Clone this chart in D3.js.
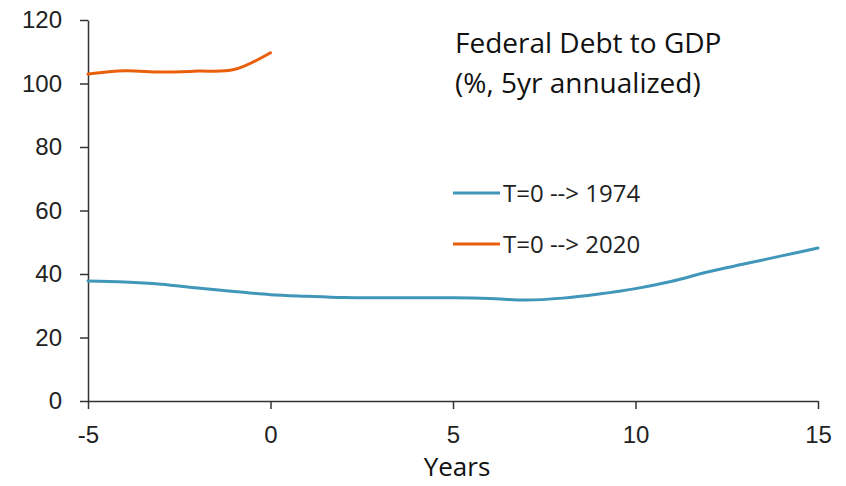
<!DOCTYPE html>
<html>
<head>
<meta charset="utf-8">
<script src="https://cdn.jsdelivr.net/npm/d3@7.9.0/dist/d3.min.js"></script>
<style>
  body { margin: 0; background: #fff; }
  svg { display: block; font-family: "Open Sans", sans-serif; }
  .axis text { font-size: 24px; fill: #222; }
  .axis path, .axis line { stroke: #333; stroke-width: 1.5; }
</style>
</head>
<body>
<div id="chart"></div>
<script>
// data
const years = [-5, -4, -3, -2, -1, 0, 1, 2, 3, 4, 5, 6, 7, 8, 9, 10, 11, 12, 13, 14, 15];
const debt1974 = [37.8, 37.5, 36.8, 35.6, 34.5, 33.5, 33.0, 32.6, 32.5, 32.5, 32.5, 32.3, 31.8, 32.4, 33.7, 35.4, 37.7, 40.7, 43.2, 45.7, 48.2];
const years2020 = [-5, -4, -3, -2, -1, 0];
const debt2020 = [103.0, 104.0, 103.6, 103.9, 104.4, 109.7];
const xTicks = [-5, 0, 5, 10, 15];
const yTicks = [0, 20, 40, 60, 80, 100, 120];
const seriesNames = ["T=0 --> 1974", "T=0 --> 2020"];
const colors = ["#4197ba", "#ea5f0c"];

const width = 846;
const height = 486;
const margin = { top: 20, right: 28, bottom: 85, left: 88 };

const svg = d3.select("#chart")
  .append("svg")
  .attr("width", width)
  .attr("height", height);

const x = d3.scaleLinear()
  .domain([-5, 15])
  .range([margin.left, width - margin.right]);

const y = d3.scaleLinear()
  .domain([0, 120])
  .range([height - margin.bottom, margin.top]);

// axes (plain hyphen for negatives, like the original)
svg.append("g")
  .attr("class", "axis")
  .attr("transform", `translate(0, ${y(0)})`)
  .call(d3.axisBottom(x).tickValues(xTicks).tickFormat(d => String(d))
    .tickSize(8).tickPadding(17).tickSizeOuter(0))
  .call(g => g.selectAll("text").attr("dy", "0.71em"));

svg.append("g")
  .attr("class", "axis")
  .attr("transform", `translate(${x(-5)}, 0)`)
  .call(d3.axisLeft(y).tickValues(yTicks).tickSize(8).tickPadding(18).tickSizeOuter(0));

// lines
const line = d3.line()
  .x(d => x(d[0]))
  .y(d => y(d[1]))
  .curve(d3.curveCatmullRom.alpha(0.5));

const series = [
  d3.zip(years, debt1974),
  d3.zip(years2020, debt2020)
];

svg.append("g")
  .selectAll("path")
  .data(series)
  .join("path")
  .attr("fill", "none")
  .attr("stroke", (d, i) => colors[i])
  .attr("stroke-width", 3)
  .attr("stroke-linecap", "round")
  .attr("d", line);

// title
const title = svg.append("text")
  .attr("font-size", 28)
  .attr("fill", "#111");
title.append("tspan").attr("x", 455).attr("y", 53).text("Federal Debt to GDP");
title.append("tspan").attr("x", 455).attr("y", 93).text("(%, 5yr annualized)");

// legend
const legend = svg.append("g")
  .selectAll("g")
  .data(seriesNames)
  .join("g")
  .attr("transform", (d, i) => `translate(453, ${193 + i * 51})`);

legend.append("line")
  .attr("x1", 0).attr("x2", 47)
  .attr("stroke", (d, i) => colors[i])
  .attr("stroke-width", 3);

legend.append("text")
  .attr("x", 50)
  .attr("y", 9)
  .attr("font-size", 24)
  .attr("fill", "#222")
  .text(d => d);

// x axis title
svg.append("text")
  .attr("x", x(5) + 4)
  .attr("y", 476)
  .attr("text-anchor", "middle")
  .attr("font-size", 26)
  .attr("fill", "#111")
  .text("Years");
</script>
</body>
</html>
